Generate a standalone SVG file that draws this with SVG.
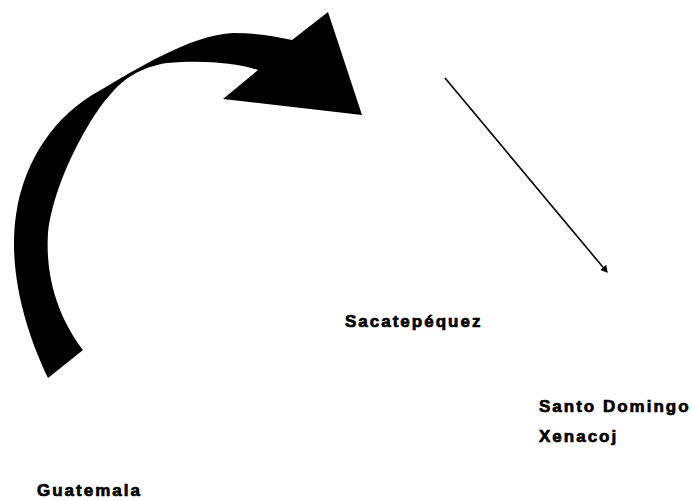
<svg xmlns="http://www.w3.org/2000/svg" width="692" height="501" viewBox="0 0 692 501">
<style>
.lbl{font-family:"Liberation Sans",Arial,sans-serif;font-weight:bold;font-size:17px;letter-spacing:2px;fill:#000;stroke:#000;stroke-width:0.7px}
</style>
<defs>
<marker id="ah" markerWidth="8" markerHeight="8" refX="6" refY="4" orient="auto" markerUnits="userSpaceOnUse">
<path d="M0,0 L7,4 L0,8 Z" fill="#000"/>
</marker>
</defs>
<rect width="692" height="501" fill="#fff"/>
<g id="connectors">
<path id="curved-arrow" fill="#000" d="M48,378 C25,330 8,270 16,215 C24,160 55,115 99,91 C135,70 190,35 233,33 C255,33 275,36 292,40 L328,12 L362,115 L223,99 L258,70 C235,63 205,60 167,63 C140,67 122,80 110,95 C95,110 55,175 48,233 C45,280 60,320 83,350 Z"/>
<line id="straight-arrow" x1="445" y1="78" x2="607" y2="272" stroke="#000" stroke-width="1.6" marker-end="url(#ah)"/>
</g>
<g id="sacatepequez"><text class="lbl" x="345" y="327">Sacatepéquez</text></g>
<g id="santo-domingo"><text class="lbl" x="539" y="412">Santo Domingo</text><text class="lbl" x="539" y="442">Xenacoj</text></g>
<g id="guatemala"><text class="lbl" x="37" y="496">Guatemala</text></g>
</svg>
